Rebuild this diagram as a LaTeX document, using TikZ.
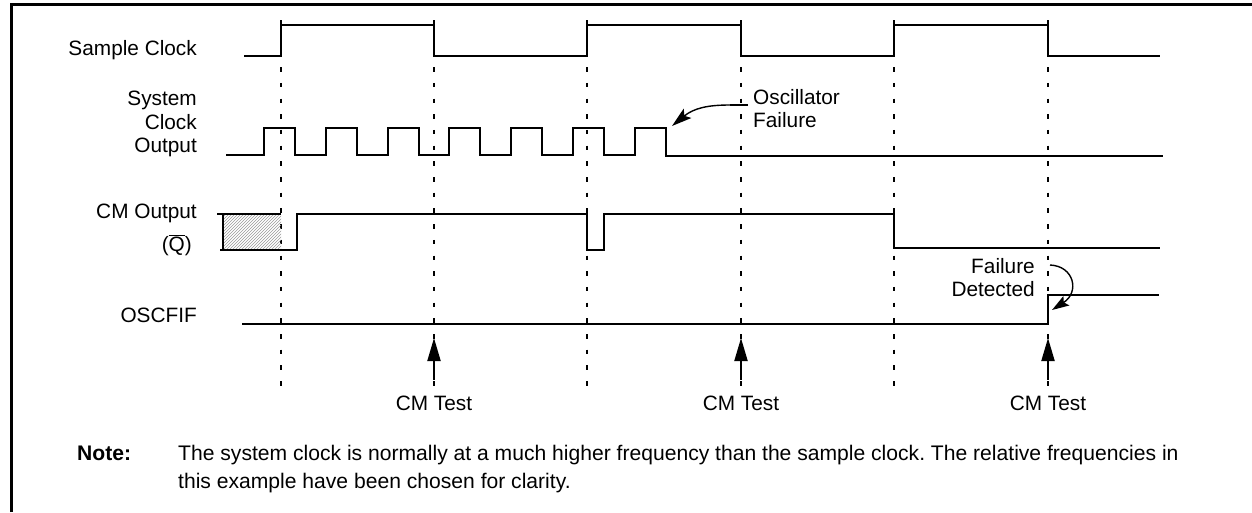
\documentclass[tikz,border=0pt]{standalone}
\usepackage{fontspec}
\setmainfont{Liberation Sans}
\usetikzlibrary{arrows.meta,patterns}
\frenchspacing
\begin{document}
\begin{tikzpicture}[x=1pt,y=-1pt,
  sig/.style={line width=2pt,line join=miter},
  guide/.style={line width=2pt,dash pattern=on 4.5pt off 11.2pt},
  frame/.style={line width=3pt},
  lbl/.style={font=\fontsize{20.8}{23.5}\selectfont,inner sep=0pt},
  notefont/.style={font=\fontsize{21.1}{28}\selectfont,inner sep=0pt},
  callout/.style={line width=1.4pt,-{Stealth[length=20pt,width=12pt,inset=4pt]}},
  testarrow/.style={line width=2pt,-{Triangle[length=23pt,width=13pt]}}]
\useasboundingbox (0,0) rectangle (1252,512);

% frame (top and left)
\draw[frame] (11.5,512) -- (11.5,4) -- (1252,4);

% guide lines
\foreach \gx in {281,434,587,741,894,1048}
  \draw[guide] (\gx,20) -- (\gx,393);

% labels
\node[lbl,anchor=base east] (lsc) at (197,55) {Sample Clock};
\node[lbl,anchor=north east,align=right] (lsys) at (197,91) {System\\Clock\\Output};
\node[lbl,anchor=base east] (lcm) at (197,218.5) {CM Output};
\node[lbl,anchor=base east] (lq) at (192,251.5) {($\overline{\hbox{Q}}$)};
\node[lbl,anchor=base east] (losc) at (197,322) {OSCFIF};

% Sample clock
\draw[sig] (244,56) -- (281,56) -- (281,25) -- (434,25) -- (434,56) -- (587,56)
  -- (587,25) -- (741,25) -- (741,56) -- (894,56) -- (894,25) -- (1048,25)
  -- (1048,56) -- (1160,56);

% System clock output
\draw[sig] (226,155) -- (264,155) -- (264,128) -- (294.9,128) -- (294.9,155)
  -- (325.8,155) -- (325.8,128) -- (356.7,128) -- (356.7,155) -- (387.6,155)
  -- (387.6,128) -- (418.5,128) -- (418.5,155) -- (449.4,155) -- (449.4,128)
  -- (480.3,128) -- (480.3,155) -- (511.2,155) -- (511.2,128) -- (542.1,128)
  -- (542.1,155) -- (573,155) -- (573,128) -- (603.9,128) -- (603.9,155)
  -- (634.8,155) -- (634.8,128) -- (665.7,128) -- (665.7,156) -- (1163,156);

% CM output
\fill[pattern=north east lines,pattern color=gray!80] (223,214) rectangle (281,250);
\draw[sig] (217,214) -- (281,214);
\draw[sig] (223,214) -- (223,250);
\draw[sig] (220,250) -- (297,250) -- (297,214) -- (587,214) -- (587,250)
  -- (604,250) -- (604,214) -- (894,214) -- (894,248) -- (1160,248);

% OSCFIF
\draw[sig] (242,324) -- (1048,324) -- (1048,295) -- (1159,295);

% Oscillator failure callout
\node[lbl,anchor=north west,align=left] (oscf) at (753,89) {Oscillator\\Failure};
\coordinate (oscA) at (748,105);
\coordinate (oscB) at (730,105);
\coordinate (oscTip) at (672,126);
\draw[line width=1.4pt] (oscA) -- (oscB);
\draw[callout] (oscB) .. controls (708,105) and (694,108) .. (oscTip);

% Failure detected callout
\node[lbl,anchor=north east,align=right] (fdet) at (1035,258) {Failure\\Detected};
\coordinate (fdA) at (1050,265);
\coordinate (fdTip) at (1052,310);
\draw[line width=1.4pt,-{Stealth[length=17pt,width=11pt,inset=3pt]}] (fdA) .. controls (1074,266) and (1080,292) .. (fdTip);

% CM Test arrows
\foreach \tx/\nm in {434/t1,741/t2,1048/t3}{
  \node[lbl,anchor=base] (\nm) at (\tx,410) {CM Test};
  \coordinate (\nm b) at (\tx,380);
  \coordinate (\nm t) at (\tx,338);
  \draw[testarrow] (\nm b) -- (\nm t);
}

% Note
\node[notefont,anchor=base west,font=\fontsize{21.1}{28}\selectfont\bfseries] (note) at (77,460) {Note:};
\node[notefont,anchor=base west] (n1) at (178,460) {The system clock is normally at a much higher frequency than the sample clock. The relative frequencies in};
\node[notefont,anchor=base west] (n2) at (178,488) {this example have been chosen for clarity.};
\end{tikzpicture}
\end{document}
